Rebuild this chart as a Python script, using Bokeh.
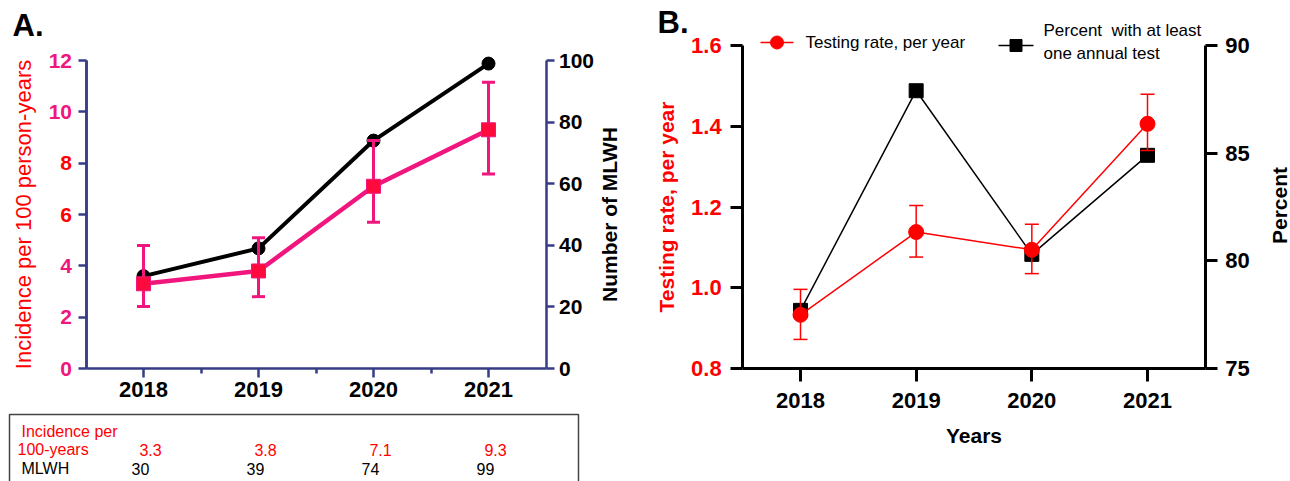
import math
from bokeh.plotting import figure
from bokeh.models import (Range1d, LinearAxis, FixedTicker, NumeralTickFormatter,
                          ColumnDataSource)
from bokeh.layouts import row
from bokeh.embed import file_html
from bokeh.resources import INLINE
from bokeh.core.properties import value

# ---------------- data ----------------
years = [2018, 2019, 2020, 2021]
incidence = [3.3, 3.8, 7.1, 9.3]
incidence_lo = [2.42, 2.80, 5.70, 7.58]
incidence_hi = [4.79, 5.09, 8.88, 11.15]
mlwh = [30, 39, 74, 99]

testing_rate = [0.933, 1.138, 1.094, 1.406]
testing_lo = [0.872, 1.076, 1.035, 1.340]
testing_hi = [0.996, 1.204, 1.157, 1.479]
percent_tested = [77.7, 87.9, 80.3, 84.9]

inc_ticks_pink = [0, 2, 4, 10, 12]
inc_ticks_red = [6, 8]
mlwh_ticks = [0, 20, 40, 60, 80, 100]
rate_ticks = [0.8, 1.0, 1.2, 1.4, 1.6]
pct_ticks = [75, 80, 85, 90]

FONT = "Liberation Sans"
NAVY = "#363C86"
PINK = "#F0167D"
RED = "#FF0000"
SQRED = "#FF0A3C"

H = 481
# ---- panel A pixel geometry (canvas 0..648) ----
WA = 648
A_X2018, A_PXY = 143.0, 115.0          # px of 2018, px per year
A_Y0, A_PXU = 368.0, 308.0 / 12        # px of incidence 0, px per unit
M_PXU = 308.0 / 100                    # px per MLWH unit


def ax(px):
    return 2018 + (px - A_X2018) / A_PXY


def ay(py):
    return (A_Y0 - py) / A_PXU


# ---- panel B pixel geometry (canvas 648..1290 on page) ----
WB = 1290 - WA
B_X2018, B_PXY = 800.0 - WA, (1147.0 - 800.0) / 3
B_Y08, B_PXU = 368.0, 323.0 / 0.8
P_PXU = 323.0 / 15


def bx(px_page):
    return 2018 + (px_page - WA - B_X2018) / B_PXY


def by(py):
    return 0.8 + (B_Y08 - py) / B_PXU


def style_axis(axis, color, lw, tick_out, lab_size, lab_color, standoff):
    axis.axis_line_color = color
    axis.axis_line_width = lw
    axis.major_tick_line_color = color
    axis.major_tick_line_width = lw
    axis.major_tick_out = tick_out
    axis.major_tick_in = 0
    axis.minor_tick_line_color = None
    axis.major_label_text_font = FONT
    axis.major_label_text_font_style = "bold"
    axis.major_label_text_font_size = lab_size
    axis.major_label_text_color = lab_color
    axis.major_label_standoff = standoff
    axis.axis_label_text_font = FONT


def base_fig(width, xr, yr):
    p = figure(width=width, height=H, output_backend="svg", toolbar_location=None,
               x_range=xr, y_range=yr, min_border_left=0, min_border_right=0,
               min_border_top=0, min_border_bottom=0)
    p.grid.visible = False
    p.outline_line_color = None
    return p


# ---------------- panel A ----------------
pA = base_fig(WA, Range1d(ax(0), ax(WA)), Range1d(ay(H), ay(0)))
pA.extra_y_ranges = {"mlwh": Range1d(-(H - A_Y0) / M_PXU, A_Y0 / M_PXU)}

xa = pA.xaxis[0]
xa.fixed_location = 0
xa.bounds = (2017.5, 2021.5)
xa.ticker = FixedTicker(ticks=years, minor_ticks=[y + 0.5 for y in years[:-1]])
style_axis(xa, NAVY, 2.5, 9, "22px", "black", 4)
xa.minor_tick_line_color = NAVY
xa.minor_tick_line_width = 2.5
xa.minor_tick_out = 5
xa.minor_tick_in = 0

ya = pA.yaxis[0]
ya.fixed_location = 2017.5
ya.bounds = (0, 12)
ya.ticker = FixedTicker(ticks=inc_ticks_pink)
style_axis(ya, NAVY, 2.5, 8, "21px", PINK, 6)
ya.axis_label = "Incidence per 100 person-years"
ya.axis_label_text_color = RED
ya.axis_label_text_font_style = "normal"
ya.axis_label_text_font_size = "22px"
ya.axis_label_standoff = 10

ya2 = LinearAxis(ticker=FixedTicker(ticks=inc_ticks_red), fixed_location=2017.5,
                 bounds=(0, 12))
style_axis(ya2, NAVY, 2.5, 8, "21px", RED, 6)
pA.add_layout(ya2, "left")

yr = LinearAxis(y_range_name="mlwh", ticker=FixedTicker(ticks=mlwh_ticks),
                fixed_location=2021.5, bounds=(0, 100))
style_axis(yr, NAVY, 2.5, 8, "21px", "black", 5)
pA.add_layout(yr, "right")
# right-axis title, reading bottom-to-top as in the original
pA.text(x=[ax(609)], y=[ay(214)], text=["Number of MLWH"], angle=math.pi / 2,
        text_align="center", text_baseline="middle", text_font=value(FONT),
        text_font_style="bold", text_font_size="21px", text_color="black")

srcA = ColumnDataSource(dict(x=years, inc=incidence, lo=incidence_lo,
                             hi=incidence_hi, m=mlwh))
pA.line("x", "m", source=srcA, y_range_name="mlwh", line_color="black", line_width=4)
pA.scatter("x", "m", source=srcA, y_range_name="mlwh", marker="circle", size=13,
           fill_color="black", line_color="black")
pA.segment(x0="x", y0="lo", x1="x", y1="hi", source=srcA, line_color=PINK, line_width=3)
pA.scatter("x", "lo", source=srcA, marker="dash", size=13, line_color=PINK, line_width=3)
pA.scatter("x", "hi", source=srcA, marker="dash", size=13, line_color=PINK, line_width=3)
pA.line("x", "inc", source=srcA, line_color=PINK, line_width=4.5)
pA.scatter("x", "inc", source=srcA, marker="square", size=14, fill_color=SQRED,
           line_color=PINK, line_width=1)

pA.text(x=[ax(12)], y=[ay(25)], text=["A."], text_font=value(FONT),
        text_font_style="bold", text_font_size="31px", text_baseline="middle",
        text_align="left", text_color="black")

# table under panel A
pA.line([ax(9), ax(9), ax(578), ax(578)], [ay(500), ay(414), ay(414), ay(500)],
        line_color="#444444", line_width=1.5)
tsrc = ColumnDataSource(dict(x=years, inc=[f"{v:.1f}" for v in incidence],
                             ml=[str(v) for v in mlwh]))
pA.text(x="x", y=ay(449), text="inc", source=tsrc, x_offset=7, text_align="center",
        text_baseline="middle", text_font_size="16px", text_color=RED,
        text_font=value(FONT))
pA.text(x="x", y=ay(468), text="ml", source=tsrc, x_offset=-3, text_align="center",
        text_baseline="middle", text_font_size="16px", text_color="black",
        text_font=value(FONT))
pA.text(x=[ax(21), ax(17), ax(21)], y=[ay(431), ay(449), ay(468)],
        text=["Incidence per", "100-years", "MLWH"],
        text_color=[RED, RED, "black"], text_align="left", text_baseline="middle",
        text_font_size="16px", text_font=value(FONT))

# ---------------- panel B ----------------
pB = base_fig(WB, Range1d(bx(WA), bx(1290)), Range1d(by(H), by(0)))
pB.extra_y_ranges = {"pct": Range1d(75 - (H - B_Y08) / P_PXU, 75 + B_Y08 / P_PXU)}

xb = pB.xaxis[0]
xb.fixed_location = 0.8
xb.bounds = (2017.5, 2021.5)
xb.ticker = FixedTicker(ticks=years)
style_axis(xb, "black", 3, 13, "22px", "black", 11)
xb.axis_label = "Years"
xb.axis_label_text_font_style = "bold"
xb.axis_label_text_font_size = "21px"
xb.axis_label_text_color = "black"
xb.axis_label_standoff = 13

yb = pB.yaxis[0]
yb.fixed_location = 2017.5
yb.bounds = (0.8, 1.6)
yb.ticker = FixedTicker(ticks=rate_ticks)
yb.formatter = NumeralTickFormatter(format="0.0")
style_axis(yb, "black", 3, 12, "22px", RED, 9)
yb.axis_label = "Testing rate, per year"
yb.axis_label_text_color = RED
yb.axis_label_text_font_style = "bold"
yb.axis_label_text_font_size = "21px"
yb.axis_label_standoff = 10

yb2 = LinearAxis(y_range_name="pct", ticker=FixedTicker(ticks=pct_ticks),
                 fixed_location=2021.5, bounds=(75, 90))
style_axis(yb2, "black", 3, 12, "22px", "black", 8)
pB.add_layout(yb2, "right")
pB.text(x=[bx(1279)], y=[by(205)], text=["Percent"], angle=math.pi / 2,
        text_align="center", text_baseline="middle", text_font=value(FONT),
        text_font_style="bold", text_font_size="21px", text_color="black")

srcB = ColumnDataSource(dict(x=years, r=testing_rate, lo=testing_lo, hi=testing_hi,
                             p=percent_tested))
pB.line("x", "p", source=srcB, y_range_name="pct", line_color="black", line_width=1.5)
pB.scatter("x", "p", source=srcB, y_range_name="pct", marker="square", size=14,
           fill_color="black", line_color="black")
pB.segment(x0="x", y0="lo", x1="x", y1="hi", source=srcB, line_color=RED, line_width=1.5)
pB.scatter("x", "lo", source=srcB, marker="dash", size=14, line_color=RED, line_width=1.5)
pB.scatter("x", "hi", source=srcB, marker="dash", size=14, line_color=RED, line_width=1.5)
pB.line("x", "r", source=srcB, line_color=RED, line_width=1.5)
pB.scatter("x", "r", source=srcB, marker="circle", size=15, fill_color=RED,
           line_color=RED)

# legend (drawn as glyphs)
pB.segment(x0=[bx(760)], y0=[by(42)], x1=[bx(793)], y1=[by(42)], line_color=RED,
           line_width=1.5)
pB.scatter(x=[bx(776.5)], y=[by(42)], marker="circle", size=13, fill_color=RED,
           line_color=RED)
pB.segment(x0=[bx(998)], y0=[by(45)], x1=[bx(1033)], y1=[by(45)], line_color="black",
           line_width=1.5)
pB.scatter(x=[bx(1015.5)], y=[by(45)], marker="square", size=12, fill_color="black",
           line_color="black")
pB.text(x=[bx(805), bx(1043), bx(1043)], y=[by(42), by(30), by(53)],
        text=["Testing rate, per year", "Percent\u00a0 with at least", "one annual test"],
        text_align="left", text_baseline="middle", text_font_size="17px",
        text_color="black", text_font=value(FONT))

pB.text(x=[bx(657)], y=[by(22)], text=["B."], text_font=value(FONT),
        text_font_style="bold", text_font_size="31px", text_baseline="middle",
        text_align="left", text_color="black")

layout = row(pA, pB)
open("out.html", "w").write(file_html(layout, INLINE))
